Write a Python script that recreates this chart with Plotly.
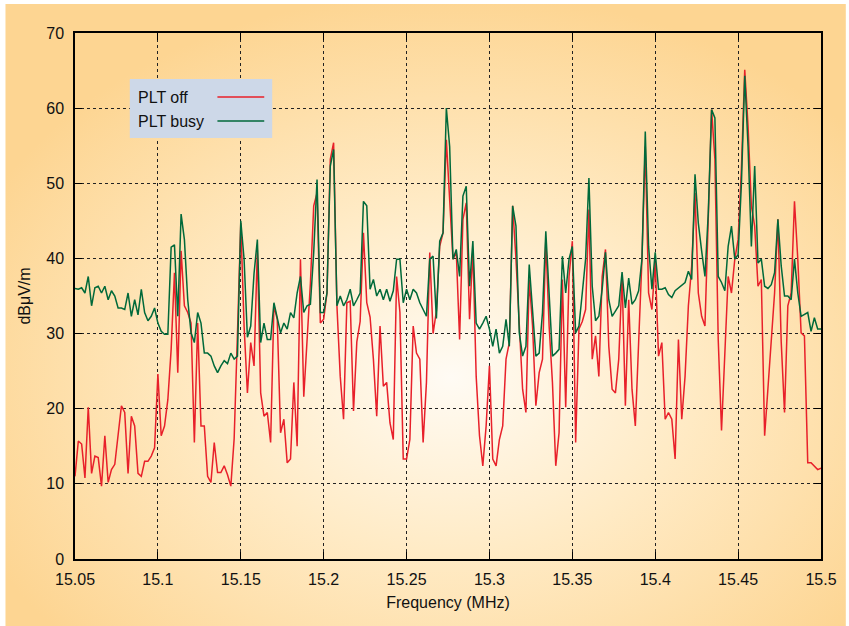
import base64

import numpy as np
import plotly.graph_objects as go

# Frecuencia: barrido uniforme de 15.05 a 15.5 MHz, paso 2 kHz
freq_start = 15.05
freq_step = 0.002

# Nivel de campo (dBuV/m)
plt_off = [
    11.0, 15.7, 15.3, 10.8, 20.2, 11.4, 13.7, 13.5, 9.7, 16.4,
    10.2, 11.9, 12.6, 16.8, 20.4, 19.5, 11.4, 19.0, 17.7, 11.4,
    11.0, 13.0, 13.0, 13.7, 14.8, 24.6, 16.4, 17.7, 21.2, 27.9,
    38.1, 24.8, 41.0, 33.7, 32.8, 31.4, 15.5, 31.4, 17.7, 17.7,
    11.0, 10.2, 15.5, 11.5, 11.5, 12.4, 11.2, 9.7, 16.0, 30.0,
    44.7, 31.0, 22.1, 28.8, 25.7, 41.2, 22.1, 19.0, 19.5, 15.5,
    33.7, 31.9, 16.8, 18.6, 12.8, 13.3, 23.5, 15.0, 39.9, 21.6,
    29.7, 36.7, 47.0, 48.7, 31.4, 31.9, 35.4, 53.2, 55.4, 33.7,
    24.3, 18.6, 34.1, 34.3, 19.7, 28.9, 31.6, 43.4, 34.1, 32.2,
    26.6, 19.0, 31.0, 23.0, 23.5, 18.1, 15.9, 37.6, 32.8, 13.3,
    13.3, 15.9, 31.0, 27.4, 26.6, 15.5, 23.5, 40.8, 30.0, 33.0,
    41.6, 43.4, 55.8, 47.0, 39.9, 40.8, 29.2, 45.2, 47.4, 31.9,
    41.2, 24.3, 16.4, 12.4, 17.7, 25.7, 13.3, 12.4, 15.9, 17.7,
    26.6, 28.8, 47.0, 39.9, 31.9, 22.6, 19.5, 37.2, 31.0, 20.4,
    24.8, 26.6, 42.5, 31.0, 23.5, 12.4, 16.8, 37.2, 20.2, 37.6,
    42.3, 15.5, 30.6, 31.6, 33.2, 46.5, 26.6, 29.7, 24.3, 37.6,
    41.2, 28.3, 22.6, 22.1, 26.6, 37.6, 20.4, 34.5, 22.6, 17.7,
    28.8, 39.9, 54.9, 35.4, 33.2, 39.5, 27.0, 28.8, 18.6, 19.5,
    18.6, 13.3, 29.2, 18.6, 24.3, 33.7, 39.0, 48.7, 35.4, 32.3,
    31.0, 46.0, 59.8, 53.2, 29.2, 17.1, 26.6, 37.6, 35.4, 39.9,
    42.5, 52.0, 65.1, 57.6, 47.0, 44.3, 36.3, 37.2, 16.4, 23.0,
    28.9, 35.4, 45.2, 28.9, 19.5, 33.7, 35.4, 47.6, 39.9, 30.1,
    29.7, 12.8, 12.8, 12.4, 11.9, 12.1,
]

plt_busy = [
    36.0, 35.9, 36.1, 35.4, 37.6, 33.7, 36.1, 36.3, 35.4, 36.3,
    34.5, 35.7, 35.0, 33.4, 33.4, 33.2, 35.4, 32.3, 34.5, 32.5,
    35.9, 32.8, 31.7, 32.3, 33.4, 31.4, 30.3, 29.9, 29.9, 41.5,
    41.8, 32.3, 45.9, 42.5, 34.5, 30.1, 28.8, 32.8, 31.4, 27.4,
    27.4, 27.0, 25.7, 24.8, 25.7, 26.4, 26.0, 27.4, 26.6, 27.0,
    45.0, 39.9, 29.5, 31.0, 38.0, 42.5, 28.8, 31.4, 29.2, 29.2,
    34.1, 31.9, 30.1, 31.4, 30.6, 32.8, 32.1, 35.4, 37.6, 32.8,
    33.7, 33.9, 40.8, 50.5, 32.8, 32.8, 35.4, 52.3, 54.5, 33.7,
    35.0, 33.7, 34.5, 35.9, 33.7, 34.5, 35.4, 47.6, 47.0, 35.9,
    37.2, 35.0, 35.9, 34.5, 35.9, 34.3, 35.7, 39.9, 39.9, 34.1,
    35.9, 34.5, 35.9, 35.4, 34.1, 33.2, 32.3, 39.9, 40.3, 32.0,
    42.3, 43.4, 60.0, 54.9, 39.9, 41.2, 37.6, 48.3, 49.6, 36.3,
    42.3, 31.4, 30.6, 31.4, 32.3, 30.6, 28.3, 30.6, 27.4, 28.3,
    31.9, 28.3, 47.0, 44.3, 30.1, 27.0, 28.3, 39.2, 32.8, 27.0,
    27.4, 32.8, 43.6, 35.4, 27.0, 27.4, 27.9, 40.3, 35.4, 39.9,
    41.6, 30.1, 31.0, 35.4, 39.9, 50.7, 36.3, 31.7, 32.3, 35.9,
    40.8, 34.5, 32.3, 33.0, 33.7, 38.2, 33.4, 37.4, 33.9, 34.5,
    35.7, 39.9, 56.9, 41.6, 35.9, 40.8, 35.9, 35.9, 36.1, 35.2,
    34.8, 35.7, 36.1, 36.5, 36.8, 38.3, 37.2, 51.2, 44.7, 41.0,
    37.6, 46.0, 59.8, 58.7, 37.6, 36.8, 35.7, 41.6, 44.3, 39.9,
    40.5, 50.0, 64.3, 54.9, 41.6, 52.3, 39.4, 39.9, 36.3, 36.0,
    36.5, 38.1, 45.2, 39.0, 35.0, 35.0, 34.5, 39.9, 35.4, 32.3,
    32.5, 32.8, 30.3, 32.1, 30.6, 30.6,
]

freq = np.round(freq_start + freq_step * np.arange(len(plt_off)), 3)

x_ticks = [15.05, 15.1, 15.15, 15.2, 15.25, 15.3, 15.35, 15.4, 15.45, 15.5]
x_labels = ["15.05", "15.1", "15.15", "15.2", "15.25", "15.3", "15.35", "15.4", "15.45", "15.5"]
y_ticks = [0, 10, 20, 30, 40, 50, 60, 70]

COLOR_OFF = "#e8202a"
COLOR_BUSY = "#00693a"
FONT = "Liberation Sans, Arial, sans-serif"

# Fondo degradado radial (crema al centro, naranja en los bordes)
svg = (
    '<svg xmlns="http://www.w3.org/2000/svg" width="844" height="622" preserveAspectRatio="none">'
    '<defs><radialGradient id="g" cx="0.53" cy="0.6" r="0.62">'
    '<stop offset="0" stop-color="#fffbf4"/>'
    '<stop offset="0.45" stop-color="#ffebc6"/>'
    '<stop offset="1" stop-color="#fdd592"/>'
    '</radialGradient></defs>'
    '<rect width="100%" height="100%" fill="url(#g)"/></svg>'
)
bg_src = "data:image/svg+xml;base64," + base64.b64encode(svg.encode()).decode()

W, H = 849, 626
L, R, T, B = 75, 25, 33, 67
pw, ph = W - L - R, H - T - B


def px(x):
    return (x - L) / pw


def py(y):
    return (H - B - y) / ph


fig = go.Figure()
fig.add_trace(go.Scatter(
    x=freq, y=plt_off, mode="lines", name="PLT off",
    line=dict(color=COLOR_OFF, width=1.5), showlegend=False,
))
fig.add_trace(go.Scatter(
    x=freq, y=plt_busy, mode="lines", name="PLT busy",
    line=dict(color=COLOR_BUSY, width=1.5), showlegend=False,
))

axis_common = dict(
    showline=True, linecolor="black", linewidth=1.5, mirror="ticks",
    ticks="inside", ticklen=7, tickcolor="black", tickwidth=1.2,
    showgrid=True, gridcolor="#222", griddash="dot", gridwidth=1,
    zeroline=False, tickfont=dict(family=FONT, size=16, color="#111"),
)

fig.update_xaxes(
    range=[15.05, 15.5], tickvals=x_ticks, ticktext=x_labels, ticklabelstandoff=5,
    title=dict(text="Frequency (MHz)", font=dict(family=FONT, size=16, color="#111"), standoff=10),
    **axis_common,
)
fig.update_yaxes(
    range=[0, 70], tickvals=y_ticks, ticklabelstandoff=6,
    title=dict(text="dBμV/m", font=dict(family=FONT, size=16, color="#111"), standoff=12),
    **axis_common,
)

# Leyenda al estilo gnuplot: texto a la izquierda, muestra de línea a la derecha
fig.add_shape(type="rect", xref="paper", yref="paper",
              x0=px(130), x1=px(273), y0=py(138), y1=py(79),
              fillcolor="#cdd8e8", line=dict(width=0), layer="above")
for label, color, yy in [("PLT off", COLOR_OFF, 97), ("PLT busy", COLOR_BUSY, 121)]:
    fig.add_annotation(x=px(136), y=py(yy), xref="paper", yref="paper",
                       text=label, showarrow=False, xanchor="left", yanchor="middle",
                       font=dict(family=FONT, size=16, color="#111"))
    fig.add_shape(type="line", xref="paper", yref="paper",
                  x0=px(218), x1=px(265), y0=py(yy), y1=py(yy),
                  line=dict(color=color, width=1.5), layer="above")

fig.add_layout_image(
    source=bg_src, xref="paper", yref="paper",
    x=px(5), y=py(4), sizex=(W - 5) / pw, sizey=(H - 4) / ph,
    xanchor="left", yanchor="top", sizing="stretch", layer="below",
)

fig.update_layout(
    width=W, height=H,
    margin=dict(l=L, r=R, t=T, b=B),
    paper_bgcolor="white", plot_bgcolor="rgba(0,0,0,0)",
    font=dict(family=FONT),
)

fig.write_html(
    "out.html",
    config={"displayModeBar": False},
    post_script="document.body.style.margin = '0px';",
)
